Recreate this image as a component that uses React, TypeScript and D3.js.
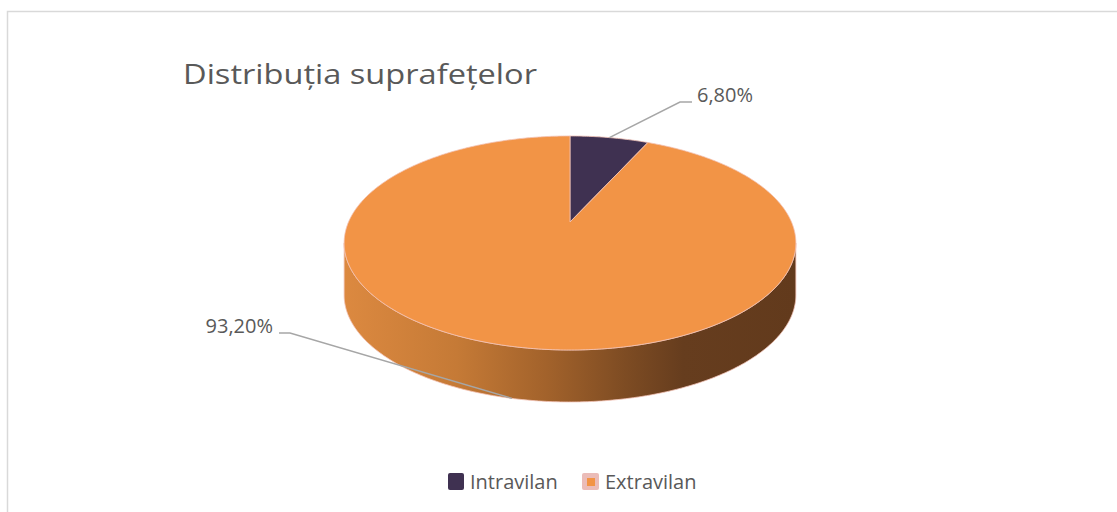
import React from "react";
import * as d3 from "d3";

const title = "Distribuția suprafețelor";
const categories = ["Intravilan", "Extravilan"];
const values = [6.8, 93.2];
const valueLabels = ["6,80%", "93,20%"];
const colors = ["#3f3151", "#f29446"];

const W = 1117;
const H = 512;
const cx = 570;
const cy = 222;
const rx = 221.5;
const ry = 102.9;
const k = 0.196;
const depth = 52;

function proj(theta: number, r = 1, dy = 0): [number, number] {
  const s = 1 / (1 + k * Math.cos(theta));
  return [cx + rx * r * Math.sin(theta) * s, cy - ry * r * Math.cos(theta) * s + dy];
}

function arcPoints(a0: number, a1: number, dy = 0): [number, number][] {
  const n = Math.max(2, Math.ceil(Math.abs(a1 - a0) / 0.01));
  const pts: [number, number][] = [];
  for (let i = 0; i <= n; i++) {
    pts.push(proj(a0 + ((a1 - a0) * i) / n, 1, dy));
  }
  return pts;
}

export default function App() {
  const pie = d3.pie<number>().sort(null).value((d) => d);
  const arcs = pie(values);
  const line = d3.line<[number, number]>();

  // silhouette angles
  const t1 = Math.acos(-k);
  const t2 = 2 * Math.PI - t1;

  const sideSlices = arcs
    .map((a, i) => {
      const a0 = Math.max(a.startAngle, t1);
      const a1 = Math.min(a.endAngle, t2);
      if (a1 <= a0) return null;
      const top = arcPoints(a0, a1);
      const bot = arcPoints(a1, a0, depth);
      return { i, d: line([...top, ...bot])! + "Z" };
    })
    .filter(Boolean) as { i: number; d: string }[];

  const tops = arcs.map((a, i) => {
    const pts = [[cx, cy] as [number, number], ...arcPoints(a.startAngle, a.endAngle)];
    return { i, d: line(pts)! + "Z" };
  });

  const mid0 = (arcs[0].startAngle + arcs[0].endAngle) / 2;
  const mid1 = (arcs[1].startAngle + arcs[1].endAngle) / 2;
  const anchor0 = proj(mid0, 1);
  const anchor1 = proj(mid1, 1, depth);
  const label0 = { elbow: [680, 102] as [number, number], end: [692, 102] as [number, number], tx: 697, ty: 102 };
  const label1 = { elbow: [290, 333] as [number, number], end: [279, 333] as [number, number], tx: 273, ty: 333 };

  const font = "'Open Sans', 'Noto Sans', sans-serif";
  const textColor = "#595959";

  return (
    <svg width={W} height={H} style={{ position: "absolute", left: 0, top: 0 }} fontFamily={font}>
      <defs>
        <linearGradient id="sideGrad" gradientUnits="userSpaceOnUse" x1={cx - rx * 1.02} y1={0} x2={cx + rx * 1.02} y2={0}>
          <stop offset="0" stopColor="#dc8940" />
          <stop offset="0.25" stopColor="#c57a36" />
          <stop offset="0.45" stopColor="#a2622b" />
          <stop offset="0.62" stopColor="#7e4c23" />
          <stop offset="0.75" stopColor="#663d1e" />
          <stop offset="1" stopColor="#623a1c" />
        </linearGradient>
      </defs>
      <rect x={7.5} y={11.5} width={W + 20} height={H + 20} fill="#fff" stroke="#d9d9d9" strokeWidth={1.5} />
      <text x={183} y={84} fontSize={28} fill={textColor} textLength={354} lengthAdjust="spacingAndGlyphs">
        {title}
      </text>
      {sideSlices.map((s) => (
        <path key={"s" + s.i} d={s.d} fill="url(#sideGrad)" stroke="#f3c3b6" strokeWidth={0.8} />
      ))}
      {tops.map((t) => (
        <path key={"t" + t.i} d={t.d} fill={colors[t.i]} stroke="#f3c3b6" strokeWidth={0.8} strokeLinejoin="round" />
      ))}
      <polyline
        points={[anchor0, label0.elbow, label0.end].map((p) => p.join(",")).join(" ")}
        fill="none"
        stroke="#a6a6a6"
        strokeWidth={1.5}
      />
      <polyline
        points={[anchor1, label1.elbow, label1.end].map((p) => p.join(",")).join(" ")}
        fill="none"
        stroke="#a6a6a6"
        strokeWidth={1.5}
      />
      <text x={label0.tx} y={label0.ty} fontSize={20} fill={textColor}>
        {valueLabels[0]}
      </text>
      <text x={label1.tx} y={label1.ty} fontSize={20} fill={textColor} textAnchor="end">
        {valueLabels[1]}
      </text>
      {/* legend */}
      <rect x={448} y={473} width={16} height={17} rx={2} fill={colors[0]} />
      <text x={470} y={489} fontSize={20} fill={textColor}>
        {categories[0]}
      </text>
      <rect x={582} y={473} width={17} height={17} rx={2} fill="#ebbcb8" />
      <rect x={587} y={478} width={8} height={8} fill={colors[1]} />
      <text x={605} y={489} fontSize={20} fill={textColor}>
        {categories[1]}
      </text>
    </svg>
  );
}
